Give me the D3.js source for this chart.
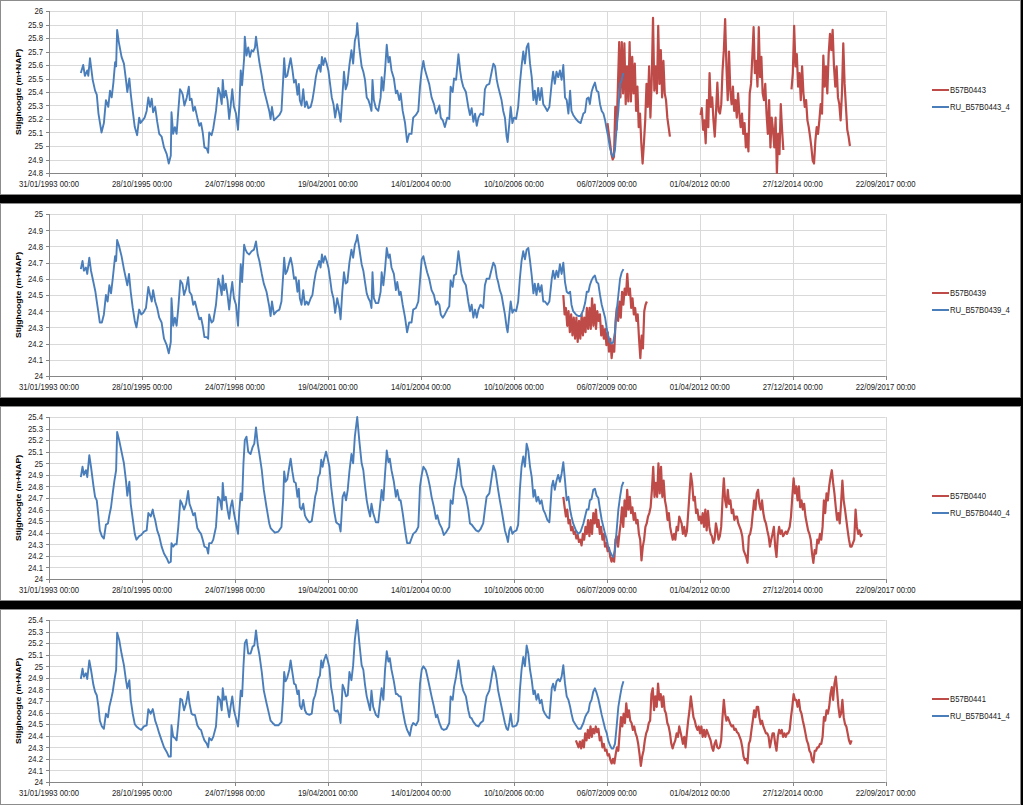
<!DOCTYPE html>
<html><head><meta charset="utf-8">
<script src="https://cdn.jsdelivr.net/npm/d3@7"></script>
<style>body{margin:0;background:#000;overflow:hidden} svg{display:block}</style>
</head><body>
<svg id="c" width="1023" height="805"></svg>
<script>
// ---------------- DATA ----------------
const xTickLabels = ["31/01/1993 00:00","28/10/1995 00:00","24/07/1998 00:00","19/04/2001 00:00","14/01/2004 00:00","10/10/2006 00:00","06/07/2009 00:00","01/04/2012 00:00","27/12/2014 00:00","22/09/2017 00:00"];
const seriesNames = [["B57B0443","RU_B57B0443_4"],["B57B0439","RU_B57B0439_4"],["B57B0440","RU_B57B0440_4"],["B57B0441","RU_B57B0441_4"]];
const yRanges = [[24.8,26],[24,25],[24,25.4],[24,25.4]];

// model series (RU), [decimal year, m+NAP]
const ru443 = [[1994.02,25.54],[1994.09,25.60],[1994.14,25.52],[1994.21,25.56],[1994.24,25.52],[1994.29,25.65],[1994.37,25.49],[1994.44,25.41],[1994.49,25.38],[1994.54,25.24],[1994.63,25.10],[1994.70,25.17],[1994.76,25.34],[1994.83,25.29],[1994.88,25.41],[1994.93,25.36],[1994.98,25.47],[1995.03,25.62],[1995.06,25.59],[1995.09,25.86],[1995.14,25.77],[1995.22,25.66],[1995.29,25.61],[1995.35,25.49],[1995.39,25.40],[1995.45,25.50],[1995.49,25.39],[1995.55,25.26],[1995.61,25.14],[1995.68,25.08],[1995.74,25.21],[1995.78,25.17],[1995.84,25.19],[1995.90,25.21],[1995.96,25.26],[1996.01,25.36],[1996.06,25.29],[1996.11,25.35],[1996.15,25.25],[1996.21,25.29],[1996.27,25.18],[1996.33,25.09],[1996.40,25.07],[1996.47,24.99],[1996.55,24.94],[1996.61,24.87],[1996.67,24.93],[1996.69,25.25],[1996.74,25.09],[1996.79,25.14],[1996.84,25.09],[1996.89,25.26],[1996.94,25.42],[1996.99,25.40],[1997.02,25.38],[1997.07,25.30],[1997.14,25.36],[1997.20,25.44],[1997.23,25.34],[1997.28,25.35],[1997.33,25.26],[1997.38,25.29],[1997.45,25.21],[1997.51,25.15],[1997.56,25.17],[1997.61,25.10],[1997.66,24.99],[1997.73,24.98],[1997.77,24.95],[1997.80,25.10],[1997.87,25.08],[1997.92,25.13],[1998.00,25.26],[1998.07,25.43],[1998.12,25.39],[1998.17,25.31],[1998.20,25.49],[1998.24,25.36],[1998.29,25.41],[1998.34,25.34],[1998.39,25.20],[1998.43,25.29],[1998.48,25.42],[1998.53,25.29],[1998.59,25.24],[1998.65,25.12],[1998.69,25.31],[1998.73,25.56],[1998.77,25.45],[1998.83,25.65],[1998.85,25.81],[1998.90,25.67],[1998.95,25.73],[1999.00,25.66],[1999.05,25.71],[1999.10,25.70],[1999.15,25.73],[1999.18,25.81],[1999.23,25.71],[1999.28,25.62],[1999.35,25.52],[1999.41,25.42],[1999.49,25.34],[1999.57,25.26],[1999.61,25.20],[1999.65,25.29],[1999.71,25.19],[1999.79,25.21],[1999.87,25.23],[1999.93,25.26],[1999.98,25.49],[2000.01,25.65],[2000.05,25.51],[2000.10,25.52],[2000.16,25.60],[2000.20,25.65],[2000.25,25.57],[2000.30,25.47],[2000.35,25.49],[2000.40,25.38],[2000.44,25.46],[2000.47,25.34],[2000.52,25.30],[2000.57,25.42],[2000.62,25.29],[2000.67,25.33],[2000.72,25.28],[2000.79,25.29],[2000.84,25.34],[2000.89,25.42],[2000.94,25.51],[2000.98,25.56],[2001.04,25.60],[2001.08,25.55],[2001.12,25.66],[2001.16,25.60],[2001.21,25.65],[2001.26,25.61],[2001.31,25.56],[2001.36,25.46],[2001.41,25.36],[2001.46,25.31],[2001.51,25.21],[2001.57,25.31],[2001.63,25.24],[2001.67,25.18],[2001.72,25.36],[2001.77,25.55],[2001.82,25.42],[2001.87,25.46],[2001.93,25.60],
[2001.99,25.71],[2002.04,25.61],[2002.09,25.78],[2002.14,25.83],[2002.16,25.91],[2002.22,25.73],[2002.29,25.59],[2002.34,25.55],[2002.39,25.49],[2002.44,25.36],[2002.49,25.34],[2002.54,25.30],[2002.58,25.26],[2002.61,25.49],[2002.65,25.34],[2002.71,25.28],[2002.78,25.26],[2002.85,25.36],[2002.88,25.51],[2002.93,25.41],[2002.98,25.56],[2003.03,25.75],[2003.08,25.62],[2003.12,25.66],[2003.17,25.56],[2003.24,25.50],[2003.30,25.39],[2003.34,25.41],[2003.40,25.34],[2003.44,25.39],[2003.50,25.26],[2003.57,25.17],[2003.63,25.03],[2003.69,25.09],[2003.76,25.09],[2003.81,25.21],[2003.89,25.23],[2003.96,25.26],[2004.01,25.44],[2004.06,25.56],[2004.11,25.63],[2004.15,25.57],[2004.22,25.51],[2004.28,25.46],[2004.35,25.36],[2004.42,25.31],[2004.48,25.24],[2004.52,25.26],[2004.58,25.30],[2004.62,25.21],[2004.68,25.19],[2004.74,25.14],[2004.81,25.21],[2004.87,25.20],[2004.91,25.44],[2004.97,25.40],[2005.01,25.50],[2005.07,25.49],[2005.14,25.68],[2005.19,25.56],[2005.23,25.49],[2005.28,25.44],[2005.36,25.40],[2005.43,25.29],[2005.48,25.23],[2005.53,25.28],[2005.58,25.18],[2005.63,25.24],[2005.68,25.15],[2005.73,25.21],[2005.79,25.24],[2005.87,25.23],[2005.92,25.42],[2005.97,25.45],[2006.05,25.46],[2006.12,25.55],[2006.17,25.61],[2006.22,25.59],[2006.27,25.49],[2006.31,25.44],[2006.36,25.39],[2006.41,25.34],[2006.46,25.26],[2006.51,25.21],[2006.56,25.07],[2006.59,25.03],[2006.64,25.17],[2006.68,25.29],[2006.73,25.17],[2006.78,25.21],[2006.84,25.20],[2006.90,25.29],[2006.95,25.46],[2007.00,25.59],[2007.05,25.70],[2007.10,25.61],[2007.15,25.73],[2007.20,25.76],[2007.25,25.61],[2007.30,25.51],[2007.35,25.34],[2007.39,25.41],[2007.44,25.31],[2007.49,25.43],[2007.54,25.34],[2007.59,25.43],[2007.64,25.31],[2007.69,25.29],[2007.76,25.26],[2007.82,25.29],[2007.89,25.47],[2007.93,25.55],[2007.98,25.46],[2008.03,25.55],[2008.08,25.51],[2008.13,25.56],[2008.18,25.49],[2008.23,25.60],[2008.28,25.36],[2008.33,25.34],[2008.38,25.24],[2008.43,25.41],[2008.47,25.26],[2008.52,25.23],[2008.60,25.20],[2008.67,25.18],[2008.74,25.17],[2008.82,25.24],[2008.87,25.25],[2008.92,25.35],[2008.97,25.36],[2009.01,25.31],[2009.06,25.40],[2009.11,25.44],[2009.16,25.47],[2009.21,25.41],[2009.26,25.40],[2009.31,25.31],[2009.36,25.26],[2009.41,25.24],[2009.46,25.19],[2009.51,25.12],[2009.55,25.07],[2009.60,24.99],[2009.65,24.94],[2009.70,24.92],[2009.75,24.97],[2009.80,25.14],[2009.85,25.26],[2009.90,25.46],[2009.95,25.49],[2010.00,25.54]];

const ru439 = [[1994.02,24.66],[1994.07,24.71],[1994.11,24.65],[1994.17,24.67],[1994.21,24.63],[1994.27,24.73],[1994.32,24.65],[1994.39,24.58],[1994.45,24.52],[1994.49,24.46],[1994.54,24.39],[1994.58,24.33],[1994.64,24.33],[1994.70,24.38],[1994.76,24.50],[1994.81,24.46],[1994.86,24.56],[1994.91,24.51],[1994.96,24.60],[1995.03,24.74],[1995.06,24.71],[1995.09,24.84],[1995.15,24.80],[1995.22,24.74],[1995.29,24.66],[1995.35,24.60],[1995.39,24.56],[1995.44,24.63],[1995.49,24.52],[1995.55,24.42],[1995.61,24.34],[1995.66,24.30],[1995.74,24.41],[1995.80,24.38],[1995.86,24.39],[1995.94,24.42],[1996.01,24.55],[1996.06,24.50],[1996.11,24.46],[1996.15,24.53],[1996.21,24.46],[1996.27,24.42],[1996.33,24.36],[1996.40,24.33],[1996.47,24.23],[1996.55,24.19],[1996.61,24.14],[1996.67,24.21],[1996.69,24.48],[1996.74,24.31],[1996.79,24.36],[1996.84,24.31],[1996.89,24.42],[1996.95,24.59],[1997.01,24.57],[1997.06,24.50],[1997.12,24.54],[1997.18,24.61],[1997.22,24.52],[1997.28,24.50],[1997.33,24.44],[1997.38,24.46],[1997.45,24.40],[1997.51,24.35],[1997.56,24.36],[1997.61,24.31],[1997.66,24.24],[1997.73,24.24],[1997.77,24.23],[1997.80,24.38],[1997.87,24.33],[1997.92,24.34],[1998.00,24.44],[1998.07,24.60],[1998.12,24.56],[1998.17,24.50],[1998.20,24.62],[1998.24,24.53],[1998.29,24.57],[1998.34,24.50],[1998.39,24.41],[1998.43,24.50],[1998.48,24.58],[1998.53,24.48],[1998.59,24.44],[1998.65,24.31],[1998.69,24.50],[1998.73,24.69],[1998.77,24.58],[1998.83,24.81],[1998.87,24.78],[1998.92,24.76],[1998.98,24.75],[1999.05,24.77],[1999.12,24.78],[1999.18,24.83],[1999.23,24.75],[1999.28,24.71],[1999.35,24.63],[1999.41,24.57],[1999.49,24.52],[1999.57,24.43],[1999.61,24.37],[1999.65,24.46],[1999.71,24.38],[1999.79,24.40],[1999.87,24.41],[1999.93,24.46],[1999.98,24.62],[2000.01,24.73],[2000.05,24.63],[2000.10,24.65],[2000.16,24.70],[2000.20,24.73],[2000.25,24.68],[2000.30,24.60],[2000.35,24.61],[2000.40,24.52],[2000.44,24.59],[2000.47,24.48],[2000.52,24.44],[2000.57,24.53],[2000.62,24.44],[2000.67,24.46],[2000.72,24.44],[2000.79,24.48],[2000.84,24.50],[2000.89,24.58],[2000.94,24.64],[2000.98,24.67],[2001.04,24.71],[2001.08,24.67],[2001.12,24.75],[2001.16,24.70],[2001.21,24.74],[2001.26,24.71],[2001.31,24.67],[2001.36,24.60],[2001.41,24.52],[2001.46,24.48],[2001.51,24.39],[2001.57,24.48],[2001.63,24.42],[2001.67,24.35],[2001.72,24.52],[2001.77,24.64],[2001.82,24.57],[2001.87,24.58],[2001.93,24.70],
[2001.99,24.78],[2002.04,24.73],[2002.09,24.81],[2002.14,24.84],[2002.16,24.87],[2002.22,24.79],[2002.29,24.69],[2002.34,24.65],[2002.39,24.58],[2002.44,24.51],[2002.49,24.48],[2002.54,24.46],[2002.58,24.42],[2002.61,24.64],[2002.65,24.48],[2002.71,24.45],[2002.78,24.45],[2002.85,24.52],[2002.88,24.64],[2002.93,24.56],[2002.98,24.66],[2003.03,24.79],[2003.08,24.73],[2003.12,24.75],[2003.17,24.67],[2003.24,24.63],[2003.30,24.53],[2003.34,24.58],[2003.40,24.50],[2003.44,24.52],[2003.50,24.44],[2003.57,24.36],[2003.63,24.27],[2003.69,24.33],[2003.76,24.33],[2003.81,24.41],[2003.89,24.42],[2003.96,24.46],[2004.01,24.59],[2004.06,24.72],[2004.11,24.74],[2004.15,24.70],[2004.22,24.64],[2004.28,24.60],[2004.35,24.53],[2004.42,24.50],[2004.48,24.44],[2004.52,24.46],[2004.58,24.44],[2004.62,24.38],[2004.68,24.36],[2004.74,24.38],[2004.81,24.41],[2004.87,24.43],[2004.91,24.59],[2004.97,24.55],[2005.01,24.62],[2005.07,24.63],[2005.14,24.77],[2005.19,24.69],[2005.23,24.63],[2005.28,24.59],[2005.36,24.56],[2005.43,24.46],[2005.48,24.40],[2005.53,24.44],[2005.58,24.36],[2005.63,24.41],[2005.68,24.36],[2005.73,24.41],[2005.79,24.44],[2005.87,24.42],[2005.92,24.56],[2005.97,24.60],[2006.05,24.60],[2006.12,24.66],[2006.17,24.70],[2006.22,24.68],[2006.27,24.61],[2006.31,24.58],[2006.36,24.53],[2006.41,24.50],[2006.46,24.44],[2006.51,24.38],[2006.56,24.30],[2006.59,24.27],[2006.64,24.38],[2006.68,24.46],[2006.73,24.39],[2006.78,24.41],[2006.84,24.40],[2006.90,24.46],[2006.95,24.60],[2007.00,24.71],[2007.05,24.77],[2007.10,24.72],[2007.15,24.78],[2007.20,24.79],[2007.25,24.71],[2007.30,24.62],[2007.35,24.51],[2007.39,24.57],[2007.44,24.50],[2007.49,24.57],[2007.54,24.52],[2007.59,24.56],[2007.64,24.46],[2007.69,24.46],[2007.76,24.44],[2007.82,24.46],[2007.89,24.60],[2007.93,24.65],[2007.98,24.60],[2008.03,24.65],[2008.08,24.61],[2008.13,24.69],[2008.18,24.63],[2008.23,24.70],[2008.28,24.58],[2008.33,24.52],[2008.38,24.51],[2008.43,24.52],[2008.47,24.44],[2008.52,24.40],[2008.60,24.38],[2008.67,24.37],[2008.74,24.37],[2008.82,24.41],[2008.87,24.45],[2008.92,24.52],[2008.97,24.52],[2009.01,24.56],[2009.06,24.59],[2009.11,24.61],[2009.16,24.62],[2009.21,24.58],[2009.26,24.57],[2009.31,24.50],[2009.36,24.44],[2009.41,24.40],[2009.46,24.36],[2009.51,24.29],[2009.55,24.25],[2009.60,24.21],[2009.65,24.20],[2009.70,24.21],[2009.75,24.27],[2009.80,24.40],[2009.85,24.50],[2009.90,24.60],[2009.95,24.64],[2010.00,24.66]];

const ruDates440 = [1994.02,1994.07,1994.11,1994.17,1994.21,1994.27,1994.32,1994.39,1994.44,1994.49,1994.54,1994.58,1994.64,1994.70,1994.76,1994.82,1994.86,1994.91,1994.96,1995.01,1995.06,1995.09,1995.15,1995.22,1995.29,1995.35,1995.39,1995.45,1995.49,1995.55,1995.61,1995.66,1995.74,1995.80,1995.88,1995.96,1996.01,1996.08,1996.14,1996.17,1996.21,1996.27,1996.33,1996.40,1996.47,1996.55,1996.61,1996.67,1996.69,1996.74,1996.79,1996.84,1996.89,1996.95,1997.00,1997.06,1997.12,1997.18,1997.22,1997.28,1997.33,1997.38,1997.45,1997.51,1997.56,1997.61,1997.66,1997.73,1997.77,1997.80,1997.87,1997.92,1998.00,1998.06,1998.12,1998.17,1998.20,1998.24,1998.29,1998.34,1998.39,1998.43,1998.48,1998.53,1998.59,1998.65,1998.69,1998.73,1998.77,1998.81,1998.85,1998.90,1998.95,1999.02,1999.08,1999.13,1999.18,1999.23,1999.28,1999.35,1999.41,1999.49,1999.57,1999.61,1999.67,1999.74,1999.84,1999.93,1999.98,2000.01,2000.05,2000.10,2000.16,2000.20,2000.25,2000.30,2000.35,2000.40,2000.44,2000.47,2000.52,2000.57,2000.62,2000.67,2000.75,2000.82,2000.87,2000.92,2000.97,2001.01,2001.06,2001.10,2001.14,2001.18,2001.24,2001.29,2001.34,2001.39,2001.44,2001.49,2001.54,2001.58,2001.63,2001.67,2001.73,2001.78,2001.83,2001.88,2001.93,
2001.99,2002.04,2002.09,2002.16,2002.22,2002.29,2002.34,2002.39,2002.44,2002.49,2002.54,2002.58,2002.63,2002.71,2002.78,2002.85,2002.88,2002.93,2002.98,2003.03,2003.08,2003.12,2003.17,2003.24,2003.30,2003.34,2003.40,2003.44,2003.50,2003.57,2003.63,2003.71,2003.76,2003.81,2003.89,2003.96,2004.01,2004.06,2004.11,2004.18,2004.25,2004.30,2004.35,2004.42,2004.48,2004.52,2004.58,2004.65,2004.71,2004.79,2004.87,2004.91,2004.97,2005.01,2005.07,2005.14,2005.19,2005.23,2005.28,2005.36,2005.43,2005.48,2005.53,2005.58,2005.66,2005.73,2005.79,2005.87,2005.92,2005.97,2006.05,2006.12,2006.17,2006.23,2006.27,2006.31,2006.36,2006.41,2006.46,2006.51,2006.56,2006.60,2006.64,2006.68,2006.73,2006.78,2006.85,2006.90,2006.95,2007.00,2007.05,2007.10,2007.15,2007.20,2007.25,2007.30,2007.35,2007.39,2007.44,2007.49,2007.54,2007.59,2007.64,2007.69,2007.76,2007.82,2007.89,2007.93,2007.98,2008.03,2008.08,2008.13,2008.18,2008.23,2008.28,2008.33,2008.38,2008.43,2008.47,2008.52,2008.60,2008.67,2008.74,2008.82,2008.87,2008.92,2008.97,2009.01,2009.06,2009.11,2009.16,2009.21,2009.26,2009.31,2009.36,2009.41,2009.46,2009.51,2009.55,2009.60,2009.65,2009.70,2009.75,2009.80,2009.85,2009.90,2009.95,2010.00];
const ru440 = [24.88,24.97,24.90,24.94,24.88,25.07,24.97,24.81,24.71,24.68,24.54,24.42,24.37,24.35,24.47,24.48,24.55,24.62,24.74,24.85,24.94,25.27,25.20,25.10,25.00,24.85,24.72,24.84,24.65,24.52,24.39,24.34,24.37,24.38,24.41,24.42,24.57,24.54,24.60,24.55,24.51,24.42,24.37,24.28,24.22,24.18,24.14,24.15,24.31,24.28,24.30,24.30,24.45,24.68,24.65,24.60,24.65,24.76,24.65,24.60,24.55,24.57,24.44,24.41,24.39,24.34,24.28,24.27,24.22,24.31,24.31,24.34,24.45,24.71,24.68,24.60,24.83,24.68,24.71,24.60,24.52,24.62,24.68,24.57,24.48,24.39,24.60,24.74,24.68,25.00,25.20,25.23,25.10,25.08,25.14,25.17,25.31,25.17,25.08,24.94,24.77,24.62,24.48,24.44,24.42,24.40,24.41,24.45,24.68,24.93,24.84,24.86,24.97,25.04,24.93,24.84,24.83,24.71,24.78,24.62,24.60,24.65,24.55,24.52,24.49,24.50,24.60,24.71,24.77,24.88,24.91,25.03,24.97,25.03,25.10,25.04,24.97,24.80,24.68,24.57,24.49,24.48,24.47,24.41,24.71,24.75,24.68,24.77,24.93,
25.08,25.00,25.23,25.40,25.20,25.00,24.94,24.80,24.68,24.60,24.54,24.65,24.57,24.49,24.49,24.68,24.77,24.68,24.91,25.11,25.01,25.04,24.94,24.84,24.71,24.77,24.68,24.68,24.57,24.42,24.31,24.31,24.35,24.39,24.41,24.45,24.80,24.90,24.97,24.94,24.87,24.80,24.71,24.62,24.52,24.55,24.48,24.44,24.38,24.41,24.45,24.68,24.65,24.78,24.88,25.04,24.94,24.81,24.77,24.71,24.60,24.48,24.47,24.45,24.42,24.41,24.43,24.48,24.60,24.71,24.74,24.88,24.98,24.93,24.85,24.77,24.68,24.60,24.51,24.42,24.37,24.32,24.42,24.45,24.39,24.41,24.42,24.47,24.77,24.97,25.06,24.97,25.17,25.11,24.97,24.88,24.71,24.77,24.67,24.71,24.65,24.68,24.60,24.57,24.51,24.49,24.80,24.85,24.77,24.85,24.90,24.84,24.91,25.01,24.85,24.68,24.71,24.60,24.54,24.48,24.42,24.39,24.41,24.48,24.54,24.60,24.60,24.68,24.69,24.77,24.78,24.72,24.70,24.60,24.51,24.45,24.39,24.34,24.28,24.24,24.21,24.19,24.25,24.42,24.60,24.71,24.80,24.84];
const ru441 = [24.89,24.98,24.91,24.94,24.89,25.05,24.97,24.84,24.78,24.75,24.65,24.53,24.48,24.46,24.59,24.56,24.65,24.71,24.78,24.88,24.97,25.29,25.23,25.11,25.01,24.88,24.81,24.88,24.71,24.59,24.50,24.48,24.46,24.45,24.48,24.49,24.63,24.59,24.63,24.59,24.53,24.48,24.42,24.36,24.30,24.26,24.22,24.22,24.49,24.39,24.38,24.36,24.51,24.72,24.71,24.62,24.68,24.78,24.68,24.59,24.58,24.58,24.49,24.46,24.45,24.40,24.36,24.33,24.30,24.38,24.36,24.39,24.48,24.74,24.71,24.62,24.81,24.71,24.74,24.65,24.56,24.65,24.74,24.62,24.55,24.48,24.62,24.79,24.74,25.00,25.20,25.23,25.11,25.11,25.17,25.18,25.31,25.18,25.10,24.95,24.79,24.68,24.58,24.53,24.51,24.49,24.49,24.52,24.74,24.95,24.87,24.90,24.97,25.05,24.95,24.85,24.84,24.76,24.79,24.66,24.63,24.71,24.62,24.59,24.58,24.59,24.71,24.75,24.82,24.89,24.92,25.05,24.99,25.05,25.10,25.05,24.99,24.82,24.74,24.62,24.61,24.62,24.58,24.51,24.84,24.80,24.74,24.75,24.95,
24.88,25.01,25.23,25.40,25.21,25.01,24.97,24.84,24.74,24.68,24.62,24.79,24.65,24.58,24.56,24.74,24.81,24.71,24.97,25.13,25.04,25.07,24.97,24.87,24.76,24.76,24.74,24.74,24.62,24.51,24.45,24.40,24.48,24.51,24.49,24.53,24.85,24.97,25.00,24.97,24.88,24.81,24.74,24.65,24.56,24.58,24.51,24.46,24.45,24.46,24.51,24.74,24.71,24.82,24.91,25.05,24.95,24.85,24.79,24.74,24.62,24.56,24.55,24.52,24.49,24.48,24.51,24.53,24.65,24.74,24.79,24.91,25.00,24.95,24.88,24.79,24.72,24.65,24.58,24.51,24.46,24.45,24.51,24.59,24.48,24.48,24.49,24.53,24.79,24.97,25.08,25.00,25.18,25.11,24.97,24.88,24.76,24.79,24.71,24.76,24.68,24.71,24.62,24.59,24.56,24.55,24.81,24.85,24.79,24.87,24.89,24.87,24.91,25.01,24.85,24.74,24.71,24.65,24.59,24.53,24.49,24.46,24.46,24.51,24.56,24.59,24.61,24.68,24.71,24.78,24.81,24.77,24.72,24.65,24.58,24.52,24.46,24.42,24.36,24.32,24.29,24.29,24.33,24.48,24.65,24.74,24.82,24.87];

// observed series: runs of regular measurements {from, to (decimal year), values}
const obs443 = [
 {from:2009.53, to:2011.37, v:[25.17,25.09,25.02,24.94,24.90,24.92,25.29,25.12,25.44,25.77,25.36,25.77,25.39,25.76,25.31,25.59,25.33,25.77,25.33,25.66,25.39,25.61,25.26,25.44,25.14,25.24,25.02,24.87,25.02,25.19,25.46,25.29,25.59,25.21,25.49,25.95,25.41,25.59,25.39,25.89,25.46,25.71,25.36,25.63,25.39,25.34,25.21,25.14,25.07]},
 {from:2012.27, to:2014.71, v:[25.23,25.28,25.12,25.19,25.02,25.34,25.14,25.54,25.29,25.36,25.19,25.07,25.26,25.47,25.26,25.24,25.31,25.56,25.71,25.94,25.59,25.34,25.70,25.41,25.31,25.44,25.26,25.34,25.21,25.39,25.24,25.14,25.24,25.09,25.17,24.99,25.09,24.96,25.39,25.46,25.66,25.88,25.54,25.63,25.44,25.88,25.51,25.66,25.39,25.34,25.46,25.24,25.09,25.34,24.99,25.21,25.12,24.99,25.21,24.80,25.09,24.94,25.31,25.12,24.97]},
 {from:2014.95, to:2016.67, v:[25.42,25.54,25.89,25.59,25.68,25.44,25.54,25.34,25.59,25.39,25.29,25.34,25.19,25.14,25.07,24.99,24.89,24.87,25.04,25.14,25.09,25.19,25.31,25.24,25.67,25.44,25.59,25.39,25.68,25.83,25.71,25.86,25.59,25.44,25.59,25.36,25.31,25.19,25.39,25.76,25.46,25.29,25.12,25.07,25.00]}
];
const obs439 = [
 {from:2008.23, to:2010.69, v:[24.50,24.38,24.42,24.31,24.40,24.27,24.38,24.25,24.36,24.23,24.36,24.21,24.34,24.23,24.38,24.25,24.36,24.27,24.42,24.29,24.42,24.29,24.48,24.31,24.44,24.29,24.40,24.34,24.38,24.25,24.31,24.23,24.29,24.19,24.27,24.15,24.23,24.11,24.19,24.15,24.34,24.42,24.34,24.46,24.36,24.52,24.44,24.54,24.50,24.63,24.50,24.54,24.42,24.48,24.38,24.42,24.34,24.38,24.23,24.11,24.25,24.17,24.40,24.44,24.46]}
];
const obs440 = [
 {from:2008.23, to:2011.645, v:[24.71,24.62,24.54,24.60,24.48,24.51,24.42,24.45,24.39,24.41,24.35,24.38,24.32,24.34,24.29,24.39,24.34,24.45,24.39,24.51,24.37,24.51,24.39,24.57,24.48,24.60,24.45,24.51,24.39,24.45,24.34,24.39,24.28,24.31,24.24,24.27,24.19,24.15,24.19,24.15,24.34,24.37,24.28,24.39,24.48,24.62,24.45,24.68,24.54,24.77,24.60,24.71,24.57,24.62,24.51,24.57,24.48,24.51,24.39,24.34,24.16,24.28,24.34,24.45,24.48,24.54,24.57,24.62,24.77,24.97,24.71,24.83,24.71,25.00,24.74,24.97,24.71,24.85,24.68,24.62,24.51,24.57,24.45,24.39,24.34,24.39,24.34,24.45,24.42,24.54]},
 {from:2011.714, to:2017.03, v:[24.48,24.39,24.45,24.37,24.41,24.57,24.74,24.91,24.83,24.68,24.71,24.57,24.60,24.51,24.54,24.48,24.57,24.45,24.60,24.42,24.59,24.45,24.39,24.37,24.31,24.34,24.48,24.42,24.34,24.37,24.45,24.68,24.87,24.68,24.62,24.77,24.65,24.68,24.57,24.60,24.51,24.54,24.54,24.48,24.45,24.42,24.37,24.25,24.22,24.19,24.14,24.37,24.39,24.45,24.57,24.68,24.60,24.74,24.77,24.65,24.60,24.68,24.57,24.51,24.48,24.42,24.37,24.28,24.34,24.39,24.45,24.28,24.19,24.37,24.45,24.39,24.42,24.37,24.39,24.41,24.39,24.42,24.45,24.54,24.71,24.87,24.74,24.80,24.68,24.80,24.62,24.68,24.60,24.65,24.54,24.48,24.42,24.39,24.34,24.22,24.14,24.25,24.22,24.34,24.31,24.39,24.34,24.45,24.68,24.57,24.74,24.68,24.80,24.88,24.94,24.83,24.74,24.62,24.51,24.57,24.48,24.65,24.85,24.68,24.60,24.51,24.42,24.34,24.28,24.28,24.31,24.34,24.60,24.45,24.39,24.42,24.37,24.39]}
];
const obs441 = [
 {from:2008.60, to:2011.645, v:[24.36,24.33,24.30,24.35,24.29,24.36,24.30,24.42,24.36,24.45,24.38,24.48,24.39,24.46,24.42,24.48,24.43,24.46,24.36,24.39,24.30,24.33,24.27,24.28,24.23,24.24,24.19,24.16,24.20,24.16,24.24,24.30,24.27,24.42,24.56,24.48,24.59,24.51,24.68,24.56,24.62,24.53,24.51,24.45,24.48,24.42,24.39,24.33,24.24,24.14,24.22,24.27,24.36,24.42,24.45,24.51,24.53,24.76,24.81,24.62,24.74,24.65,24.85,24.71,24.76,24.65,24.74,24.62,24.59,24.51,24.48,24.42,24.33,24.29,24.33,24.36,24.42,24.39,24.48]},
 {from:2011.714, to:2016.72, v:[24.39,24.33,24.39,24.30,24.42,24.53,24.62,24.74,24.65,24.56,24.53,24.48,24.45,24.48,24.42,24.48,24.39,24.45,24.39,24.45,24.42,24.39,24.36,24.30,24.27,24.33,24.36,24.30,24.29,24.30,24.36,24.56,24.71,24.59,24.53,24.56,24.53,24.50,24.48,24.49,24.45,24.46,24.43,24.42,24.39,24.36,24.30,24.22,24.19,24.20,24.16,24.33,24.36,24.45,24.53,24.62,24.56,24.65,24.65,24.56,24.50,24.53,24.48,24.45,24.42,24.42,24.39,24.30,24.36,24.42,24.42,24.33,24.27,24.39,24.45,24.42,24.45,24.39,24.42,24.39,24.42,24.42,24.45,24.56,24.65,24.76,24.71,24.71,24.65,24.71,24.62,24.59,24.53,24.48,24.42,24.36,24.33,24.27,24.25,24.19,24.17,24.27,24.27,24.30,24.30,24.33,24.33,24.39,24.56,24.53,24.62,24.59,24.65,24.76,24.82,24.71,24.85,24.91,24.79,24.65,24.56,24.59,24.71,24.56,24.50,24.48,24.42,24.36,24.33,24.36]}
];

// ---------------- RENDER ----------------
const RED = "#BE4B48", BLUE = "#4A7EBB";
const FONT = "'Liberation Sans', Arial, sans-serif";
const SX = 0.82;            // horizontal squeeze of the source picture's text
const W = 1023;
const panelTops = [0, 203, 406, 609];
const panelHeights = [195, 195, 195, 196];
const plotLeft = 49, plotRight = 885.7, plotTopOff = 11, plotBottomOff = 173;

const parseTick = d3.timeParse("%d/%m/%Y %H:%M");
const tickDates = xTickLabels.map(parseTick);
function yearToDate(y) {
  const yr = Math.floor(y);
  const a = new Date(yr, 0, 1).getTime(), b = new Date(yr + 1, 0, 1).getTime();
  return new Date(a + (y - yr) * (b - a));
}
const x = d3.scaleTime().domain([tickDates[0], tickDates[tickDates.length - 1]]).range([plotLeft, plotRight]);

const svg = d3.select("#c");
svg.append("rect").attr("width", W).attr("height", 805).attr("fill", "#000");

function hText(g, px, py, str, anchor) {
  return g.append("text")
    .attr("transform", `translate(${px},${py}) scale(${SX},1)`)
    .attr("text-anchor", anchor)
    .attr("font-family", FONT).attr("font-size", 9.4).attr("fill", "#1a1a1a")
    .text(str);
}

const ruList = [
  ru443.map(d => ({t: yearToDate(d[0]), v: d[1]})),
  ru439.map(d => ({t: yearToDate(d[0]), v: d[1]})),
  ruDates440.map((t, i) => ({t: yearToDate(t), v: ru440[i]})),
  ruDates440.map((t, i) => ({t: yearToDate(t), v: ru441[i]}))
];
const obsList = [obs443, obs439, obs440, obs441];

function runsToPaths(runs) {
  const paths = [];
  let cur = null, lastTo = null;
  runs.forEach(r => {
    const n = r.v.length;
    const pts = r.v.map((v, i) => ({t: yearToDate(r.from + (r.to - r.from) * i / (n - 1)), v}));
    if (cur && r.from - lastTo < 0.2) cur.push(...pts);
    else { cur = pts; paths.push(cur); }
    lastTo = r.to;
  });
  return paths;
}

panelTops.forEach((top, pi) => {
  const g = svg.append("g");
  g.append("rect").attr("x", 0.5).attr("y", top + 0.5).attr("width", 1020).attr("height", panelHeights[pi] - 1)
    .attr("fill", "#fff").attr("stroke", "#8c8c8c").attr("stroke-width", 1);

  const [yMin, yMax] = yRanges[pi];
  const y0 = top + plotBottomOff, y1 = top + plotTopOff;
  const y = d3.scaleLinear().domain([yMin, yMax]).range([y0, y1]);
  const nT = Math.round((yMax - yMin) / 0.1);
  const yTicks = d3.range(nT + 1).map(i => Math.round((yMin + i * 0.1) * 10) / 10);

  // gridlines
  g.selectAll(".hg").data(yTicks.slice(1)).join("line")
    .attr("x1", plotLeft).attr("x2", plotRight)
    .attr("y1", d => Math.round(y(d)) + 0.5).attr("y2", d => Math.round(y(d)) + 0.5)
    .attr("stroke", "#d9d9d9").attr("stroke-width", 1);
  g.selectAll(".vg").data(tickDates.slice(1)).join("line")
    .attr("x1", d => Math.round(x(d)) + 0.5).attr("x2", d => Math.round(x(d)) + 0.5)
    .attr("y1", y1).attr("y2", y0)
    .attr("stroke", "#d9d9d9").attr("stroke-width", 1);

  // axes
  const axisCol = "#868686";
  g.append("line").attr("x1", plotLeft + 0.5).attr("x2", plotLeft + 0.5).attr("y1", y1).attr("y2", y0 + 0.5).attr("stroke", axisCol);
  g.append("line").attr("x1", plotLeft).attr("x2", plotRight).attr("y1", Math.round(y0) + 0.5).attr("y2", Math.round(y0) + 0.5).attr("stroke", axisCol);
  g.selectAll(".yt").data(yTicks).join("line")
    .attr("x1", plotLeft - 3).attr("x2", plotLeft)
    .attr("y1", d => Math.round(y(d)) + 0.5).attr("y2", d => Math.round(y(d)) + 0.5).attr("stroke", axisCol);
  g.selectAll(".xt").data(tickDates).join("line")
    .attr("x1", d => Math.round(x(d)) + 0.5).attr("x2", d => Math.round(x(d)) + 0.5)
    .attr("y1", y0).attr("y2", y0 + 4).attr("stroke", axisCol);

  // tick labels
  yTicks.forEach(v => hText(g, 43, y(v) + 3.3, String(v), "end"));
  tickDates.forEach((d, i) => hText(g, x(d), top + 187, xTickLabels[i], "middle"));

  // y axis title
  g.append("text")
    .attr("transform", `translate(21,${top + 92}) scale(${SX},1) rotate(-90)`)
    .attr("text-anchor", "middle")
    .attr("font-family", FONT).attr("font-size", 8.6).attr("font-weight", "bold").attr("fill", "#000")
    .text("Stijghoogte (m+NAP)");

  // series (observed first, model on top)
  const line = d3.line().x(d => x(d.t)).y(d => y(d.v));
  runsToPaths(obsList[pi]).forEach(p => {
    g.append("path").datum(p).attr("d", line).attr("fill", "none")
      .attr("stroke", RED).attr("stroke-width", 2.2).attr("stroke-linejoin", "round");
  });
  g.append("path").datum(ruList[pi]).attr("d", line).attr("fill", "none")
    .attr("stroke", BLUE).attr("stroke-width", 1.9).attr("stroke-linejoin", "round");

  // legend
  const leg = [[seriesNames[pi][0], RED, 90], [seriesNames[pi][1], BLUE, 107]];
  leg.forEach(([name, col, ly]) => {
    g.append("line").attr("x1", 932).attr("x2", 949).attr("y1", top + ly).attr("y2", top + ly)
      .attr("stroke", col).attr("stroke-width", 2);
    hText(g, 950, top + ly + 3.3, name, "start");
  });
});
</script></body></html>
